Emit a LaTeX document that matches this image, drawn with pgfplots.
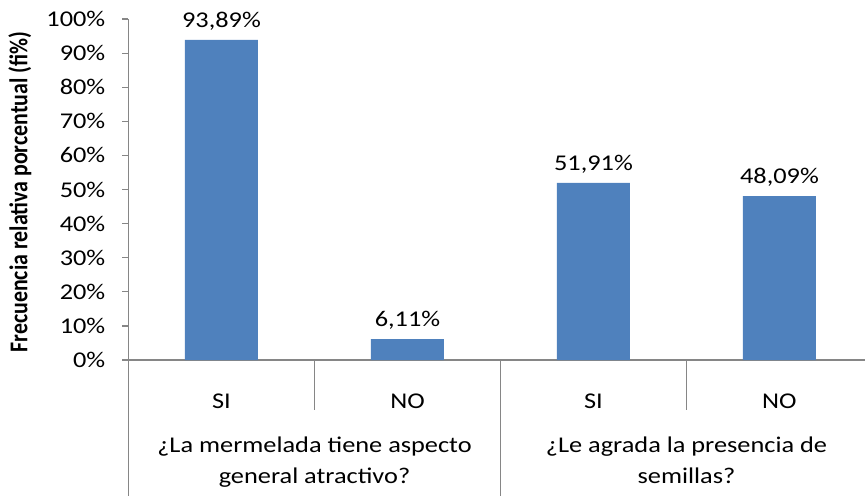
\documentclass[border=0pt]{standalone}
\usepackage{fontspec}
\setmainfont{Carlito}[FakeStretch=1.17]
\newfontfamily\labfont{Carlito}
\usepackage{graphicx}
\usepackage{pgfplots}
\pgfplotsset{compat=1.18}
\definecolor{barblue}{HTML}{4F81BD}
\definecolor{axgrey}{HTML}{868686}

\begin{document}
\fontsize{22.5}{27}\selectfont
\begin{tikzpicture}
  \begin{axis}[
      at={(0pt,0pt)}, anchor=south west,
      scale only axis,
      width=736.5pt, height=341pt,
      xmin=-0.5, xmax=3.46,
      ymin=0, ymax=100,
      axis x line=bottom, axis y line=left,
      axis line style={axgrey, line width=1.2pt, -},
      ybar, bar width=73pt,
      xtick={0,1,2,3},
      xticklabels={SI,NO,SI,NO},
      xtick style={draw=none},
      xticklabel style={anchor=base, yshift=-42pt},
      ytick={0,10,...,100},
      yticklabels={0\%,10\%,20\%,30\%,40\%,50\%,60\%,70\%,80\%,90\%,100\%},
      ytick style={axgrey, line width=1.2pt},
      tick align=outside,
      major tick length=6pt,
      yticklabel style={anchor=east, xshift=-17pt, inner sep=0pt},
      /pgf/number format/.cd, use comma, fixed, fixed zerofill, precision=2,
        assume math mode=true,
      /pgfplots/.cd,
      nodes near coords={\pgfmathprintnumber{\pgfplotspointmeta}\%},
      every node near coord/.append style={anchor=base, inner sep=0pt, yshift=12.8pt, black},
      clip=false,
    ]
    \addplot[fill=barblue, draw=none] coordinates {
      (0,93.89)
      (1,6.11)
      (2,51.91)
      (3,48.09)
    };
    \draw[axgrey, line width=1.2pt] (axis cs:-0.5,0) -- ++(0pt,-136pt);
    \draw[axgrey, line width=1.2pt] (axis cs:0.5,0) -- ++(0pt,-50pt);
    \draw[axgrey, line width=1.2pt] (axis cs:1.5,0) -- ++(0pt,-136pt);
    \draw[axgrey, line width=1.2pt] (axis cs:2.5,0) -- ++(0pt,-50pt);
    \node[anchor=base, inner sep=0pt] at (axis cs:0.5,0) [yshift=-92pt] {¿La mermelada tiene aspecto};
    \node[anchor=base, inner sep=0pt] at (axis cs:0.5,0) [yshift=-123pt] {general atractivo?};
    \node[anchor=base, inner sep=0pt] at (axis cs:2.5,0) [yshift=-92pt] {¿Le agrada la presencia de};
    \node[anchor=base, inner sep=0pt] at (axis cs:2.5,0) [yshift=-123pt] {semillas?};
    \node[xshift=-108.5pt, yshift=-2.5pt, rotate=90, inner sep=0pt,
      font=\labfont\bfseries\fontsize{21.9}{26}\selectfont]
      at (rel axis cs:0,0.5) {\scalebox{1}[1.17]{Frecuencia relativa porcentual (fi\%)}};
  \end{axis}
  \pgfresetboundingbox
  \path[use as bounding box] (-128.5pt,-136pt) rectangle (736.5pt,360pt);
\end{tikzpicture}
\end{document}
